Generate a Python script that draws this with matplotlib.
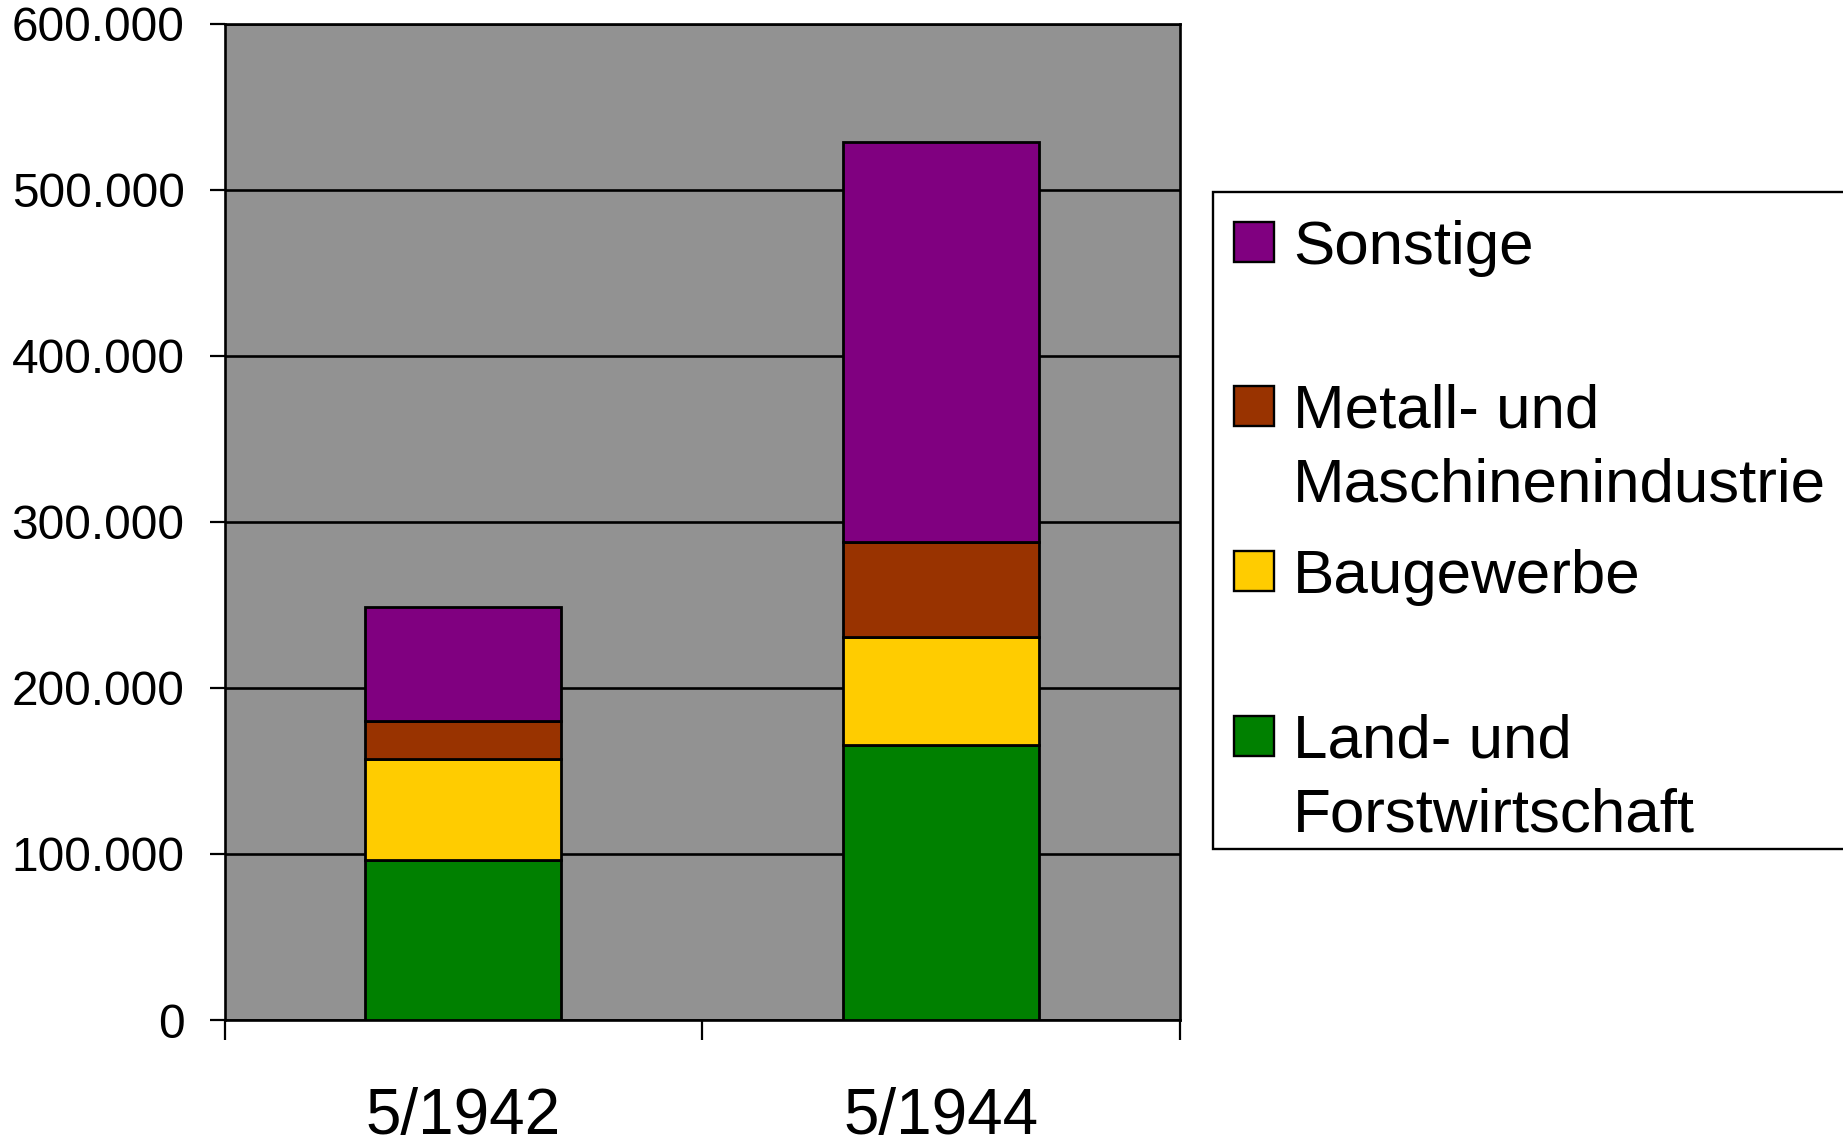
import matplotlib
matplotlib.use("Agg")
import matplotlib.pyplot as plt
import matplotlib.ticker as mticker
from matplotlib.patches import Rectangle

plt.rcParams["font.family"] = ["Liberation Sans", "DejaVu Sans"]

# Daten (Personen je Wirtschaftszweig)
zeitpunkte = ["5/1942", "5/1944"]
land_forst = [96500, 165800]
baugewerbe = [60500, 64600]
metall = [23000, 57400]
sonstige = [68600, 241000]

reihen = [land_forst, baugewerbe, metall, sonstige]
namen = [["Land- und", "Forstwirtschaft"], ["Baugewerbe"],
         ["Metall- und", "Maschinenindustrie"], ["Sonstige"]]
farben = ["#008000", "#FFCC00", "#993300", "#800080"]

W, H = 1843, 1147
fig = plt.figure(figsize=(W / 100, H / 100), dpi=100, facecolor="white")
ax = fig.add_axes([224.5 / W, 1 - 1020 / H, (1180 - 224.5) / W, (1020 - 23.5) / H])
ax.set_facecolor("#929292")

x = list(range(len(zeitpunkte)))
unten = [0] * len(zeitpunkte)
for werte, farbe in zip(reihen, farben):
    ax.bar(x, werte, bottom=unten, width=0.41, color=farbe,
           edgecolor="black", linewidth=2.0, zorder=3)
    unten = [u + w for u, w in zip(unten, werte)]

ax.set_xlim(-0.5, len(zeitpunkte) - 0.5)
ax.set_ylim(0, 600000)

# y-Achse
ax.yaxis.set_major_locator(mticker.MultipleLocator(100000))
ax.yaxis.set_major_formatter(
    mticker.FuncFormatter(lambda v, _: f"{int(v):,}".replace(",", ".")))
ax.tick_params(axis="y", length=10.8, width=1.6, pad=18, labelsize=34.4)
ax.grid(axis="y", color="black", linewidth=1.9, zorder=1)
ax.set_axisbelow(True)

# x-Achse: Striche zwischen den Kategorien, Beschriftung in der Mitte
ax.xaxis.set_major_locator(mticker.FixedLocator([i - 0.5 for i in range(len(x) + 1)]))
ax.xaxis.set_major_formatter(mticker.NullFormatter())
ax.xaxis.set_minor_locator(mticker.FixedLocator(x))
ax.xaxis.set_minor_formatter(mticker.FixedFormatter(zeitpunkte))
ax.tick_params(axis="x", which="major", length=14.4, width=1.6)
ax.tick_params(axis="x", which="minor", length=0, pad=48, labelsize=46)

for s in ax.spines.values():
    s.set_color("black")
    s.set_linewidth(1.9)

# Legende von Hand, oberster Stapel zuerst
def fx(px):
    return px / W


def fy(py):
    return 1 - py / H


fig.patches.append(Rectangle((fx(1213), fy(848.6)), fx(1870 - 1213), (848.6 - 191.6) / H,
                             transform=fig.transFigure, facecolor="white",
                             edgecolor="black", linewidth=1.7))
mitten = [736, 571, 405.5, 242]
for zeilen, farbe, my in zip(namen, farben, mitten):
    fig.patches.append(Rectangle((fx(1234), fy(my + 20)), fx(40), 40 / H,
                                 transform=fig.transFigure, facecolor=farbe,
                                 edgecolor="black", linewidth=1.7))
    for k, zeile in enumerate(zeilen):
        fig.text(fx(1293), fy(my + 22 + 74 * k), zeile, fontsize=44.6,
                 ha="left", va="baseline")

fig.savefig("out.png", dpi=100)
